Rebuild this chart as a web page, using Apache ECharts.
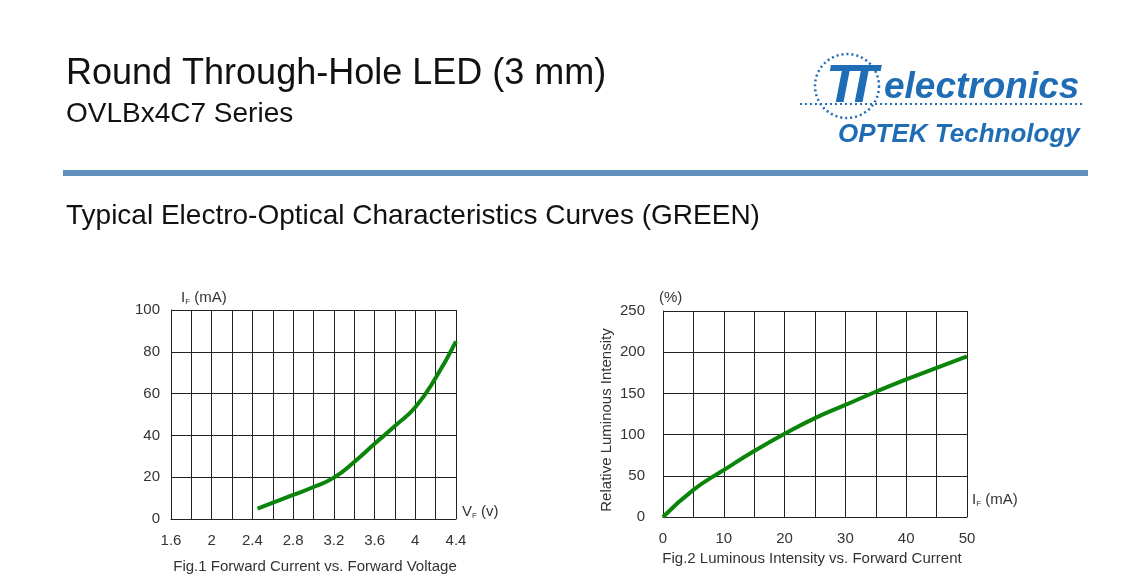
<!DOCTYPE html>
<html><head><meta charset="utf-8">
<script src="https://cdn.jsdelivr.net/npm/echarts@6/dist/echarts.min.js"></script>
<style>html,body{margin:0;padding:0;background:#fff}#c{width:1127px;height:584px}</style>
</head><body><div id="c"></div>
<script>
// Fig.1 Forward current vs forward voltage
const vfVoltage = [2.45, 2.8, 3.0, 3.2, 3.4, 3.6, 3.8, 4.0, 4.2, 4.4];
const ifCurrent = [5, 11.5, 15.3, 19.8, 27.3, 36, 44.5, 53.5, 67.5, 85];
// Fig.2 Relative luminous intensity vs forward current
const ifCurrent2 = [0, 5, 10, 15, 20, 25, 30, 35, 40, 45, 50];
const relIntensity = [0, 33, 57, 80, 101, 120, 136, 152, 167, 181, 195];

const FONT = "'Liberation Sans', Arial, sans-serif";
const GRIDC = '#222';
const LBL = '#333';
const BLUE = '#1f6db5';
const GREEN = '#0a850a';

const chart = echarts.init(document.getElementById('c'), null, {renderer: 'canvas'});

function axisCommon() {
  return {
    type: 'value',
    axisLine: {show: true, onZero: false, lineStyle: {color: GRIDC, width: 1}},
    axisTick: {show: false},
    splitLine: {show: true, lineStyle: {color: GRIDC, width: 1}},
  };
}

const option = {
  animation: false,
  backgroundColor: '#fff',
  textStyle: {fontFamily: FONT},
  grid: [
    {left: 171, top: 310, width: 285, height: 209},
    {left: 663, top: 311, width: 304, height: 206}
  ],
  xAxis: [
    Object.assign(axisCommon(), {
      gridIndex: 0, min: 1.6, max: 4.4, interval: 0.2,
      axisLabel: {margin: 14, color: LBL, fontSize: 15, fontFamily: FONT,
        formatter: v => (Math.round(v * 10) % 4 === 0 ? String(Math.round(v * 10) / 10) : '')}
    }),
    Object.assign(axisCommon(), {
      gridIndex: 1, min: 0, max: 50, interval: 5,
      axisLabel: {margin: 14, color: LBL, fontSize: 15, fontFamily: FONT,
        formatter: v => (Math.round(v) % 10 === 0 ? String(Math.round(v)) : '')}
    })
  ],
  yAxis: [
    Object.assign(axisCommon(), {
      gridIndex: 0, min: 0, max: 100, interval: 20,
      axisLabel: {margin: 11, color: LBL, fontSize: 15, fontFamily: FONT}
    }),
    Object.assign(axisCommon(), {
      gridIndex: 1, min: 0, max: 250, interval: 50,
      axisLabel: {margin: 18, color: LBL, fontSize: 15, fontFamily: FONT}
    })
  ],
  series: [
    {type: 'line', xAxisIndex: 0, yAxisIndex: 0, smooth: true, showSymbol: false,
      lineStyle: {color: GREEN, width: 4}, itemStyle: {color: GREEN},
      data: vfVoltage.map((v, i) => [v, ifCurrent[i]])},
    {type: 'line', xAxisIndex: 1, yAxisIndex: 1, smooth: true, showSymbol: false,
      lineStyle: {color: GREEN, width: 4}, itemStyle: {color: GREEN},
      data: ifCurrent2.map((v, i) => [v, relIntensity[i]])}
  ],
  graphic: [
    // header
    {type: 'text', x: 66, y: 74, style: {text: 'Round Through-Hole LED (3 mm)', font: '36px ' + FONT, fill: '#111', verticalAlign: 'middle'}},
    {type: 'text', x: 66, y: 114, style: {text: 'OVLBx4C7 Series', font: '28px ' + FONT, fill: '#111', verticalAlign: 'middle'}},
    {type: 'rect', shape: {x: 63, y: 170, width: 1025, height: 6}, style: {fill: '#5f8fbd'}},
    {type: 'text', x: 66, y: 216, style: {text: 'Typical Electro-Optical Characteristics Curves (GREEN)', font: '28px ' + FONT, fill: '#111', verticalAlign: 'middle'}},
    // logo
    {type: 'circle', shape: {cx: 847, cy: 86, r: 32}, style: {fill: 'none', stroke: BLUE, lineWidth: 2.5, lineDash: [2, 3]}},
    {type: 'line', shape: {x1: 800, y1: 104, x2: 1082, y2: 104}, style: {stroke: BLUE, lineWidth: 2, lineDash: [2, 3]}},
    {type: 'text', x: 826, y: 60, style: {text: 'T', font: 'italic bold 54px ' + FONT, fill: BLUE}},
    {type: 'text', x: 845, y: 60, style: {text: 'T', font: 'italic bold 54px ' + FONT, fill: BLUE}},
    {type: 'text', x: 884, y: 69, style: {text: 'electronics', font: 'italic bold 37px ' + FONT, fill: BLUE}},
    {type: 'text', x: 838, y: 122, style: {text: 'OPTEK Technology', font: 'italic bold 26px ' + FONT, fill: BLUE}},
    // chart 1 labels
    {type: 'text', x: 181, y: 290, style: {text: '{a|I}{s|F}{a| (mA)}', rich: {a: {font: '15px ' + FONT, fill: LBL}, s: {font: '8px ' + FONT, fill: LBL, padding: [8, 0, 0, 0]}}}},
    {type: 'text', x: 462, y: 504, style: {text: '{a|V}{s|F}{a| (v)}', rich: {a: {font: '15px ' + FONT, fill: LBL}, s: {font: '8px ' + FONT, fill: LBL, padding: [8, 0, 0, 0]}}}},
    {type: 'text', x: 315, y: 567, style: {text: 'Fig.1 Forward Current vs. Forward Voltage', font: '15px ' + FONT, fill: LBL, align: 'center', verticalAlign: 'middle'}},
    // chart 2 labels
    {type: 'text', x: 659, y: 290, style: {text: '(%)', font: '15px ' + FONT, fill: LBL}},
    {type: 'text', x: 607, y: 420, rotation: Math.PI / 2, style: {text: 'Relative Luminous Intensity', font: '15px ' + FONT, fill: LBL, align: 'center', verticalAlign: 'middle'}},
    {type: 'text', x: 972, y: 492, style: {text: '{a|I}{s|F}{a| (mA)}', rich: {a: {font: '15px ' + FONT, fill: LBL}, s: {font: '8px ' + FONT, fill: LBL, padding: [8, 0, 0, 0]}}}},
    {type: 'text', x: 812, y: 559, style: {text: 'Fig.2 Luminous Intensity vs. Forward Current', font: '15px ' + FONT, fill: LBL, align: 'center', verticalAlign: 'middle'}}
  ]
};
chart.setOption(option);
</script></body></html>
